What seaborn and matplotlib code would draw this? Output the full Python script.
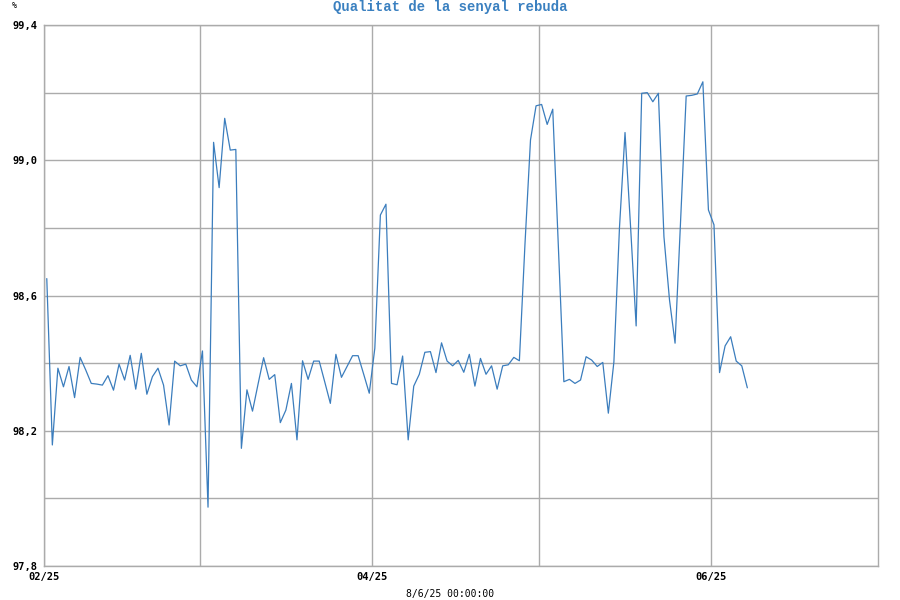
import matplotlib
matplotlib.use("Agg")
import matplotlib.pyplot as plt
import matplotlib.dates as mdates
from matplotlib.ticker import FixedLocator, FuncFormatter
import numpy as np
import pandas as pd
import seaborn as sns

# ---- data (daily readings, % signal quality) ----
start_date = "2025-02-01 12:00"
quality = [
    98.65, 98.158, 98.385, 98.33, 98.39, 98.298, 98.417, 98.38, 98.34, 98.338,
    98.335, 98.363, 98.32, 98.397, 98.35, 98.423, 98.323, 98.429, 98.308, 98.36,
    98.385, 98.335, 98.217, 98.406, 98.392, 98.397, 98.35, 98.33, 98.436, 97.974,
    99.053, 98.919, 99.124, 99.03, 99.032, 98.148, 98.321, 98.258, 98.338, 98.416,
    98.352, 98.366, 98.224, 98.261, 98.34, 98.173, 98.407, 98.352, 98.406, 98.406,
    98.344, 98.281, 98.426, 98.358, 98.39, 98.422, 98.422, 98.367, 98.311, 98.444,
    98.838, 98.87, 98.34, 98.336, 98.421, 98.173, 98.332, 98.367, 98.432, 98.434,
    98.372, 98.46, 98.406, 98.392, 98.408, 98.373, 98.426, 98.332, 98.414, 98.367,
    98.392, 98.323, 98.392, 98.395, 98.417, 98.407, 98.75, 99.06, 99.161, 99.165,
    99.106, 99.151, 98.749, 98.345, 98.352, 98.34, 98.35, 98.419, 98.409, 98.39,
    98.402, 98.252, 98.404, 98.8, 99.082, 98.803, 98.51, 99.198, 99.2, 99.173,
    99.198, 98.774, 98.587, 98.459, 98.823, 99.19, 99.192, 99.196, 99.232, 98.853,
    98.809, 98.372, 98.451, 98.478, 98.406, 98.392, 98.327,
]
y_major = [97.8, 98.2, 98.6, 99.0, 99.4]
y_minor = [98.0, 98.4, 98.8, 99.2]
x_major = ["2025-02-01", "2025-04-01", "2025-06-01"]
x_minor = ["2025-03-01", "2025-05-01"]
x_limits = ["2025-02-01", "2025-07-01"]
title = "Qualitat de la senyal rebuda"
unit_label = "%"
footer = "8/6/25 00:00:00"

dates = pd.date_range(start_date, periods=len(quality), freq="D")
df = pd.DataFrame({"date": dates, "quality": quality})

sns.set_theme(style="white")
plt.rcParams["font.family"] = ["DejaVu Sans Mono", "DejaVu Sans"]

fig = plt.figure(figsize=(9, 6), dpi=100)
ax = fig.add_axes([44 / 900, 34 / 600, 834 / 900, 541 / 600])

line_color = "#3b7dbd"
grid_color = "#ababab"

sns.lineplot(data=df, x="date", y="quality", ax=ax, color=line_color,
             linewidth=0.9, legend=False)

ax.set_xlim(pd.Timestamp(x_limits[0]), pd.Timestamp(x_limits[1]))
ax.set_ylim(y_major[0], y_major[-1])

ax.xaxis.set_major_locator(FixedLocator(mdates.date2num(pd.to_datetime(x_major))))
ax.xaxis.set_minor_locator(FixedLocator(mdates.date2num(pd.to_datetime(x_minor))))
ax.xaxis.set_major_formatter(mdates.DateFormatter("%m/%y"))
ax.yaxis.set_major_locator(FixedLocator(y_major))
ax.yaxis.set_minor_locator(FixedLocator(y_minor))
ax.yaxis.set_major_formatter(FuncFormatter(lambda v, p: f"{v:.1f}".replace(".", ",")))

ax.grid(True, which="both", color=grid_color, linewidth=1.0)
ax.set_axisbelow(True)
for s in ax.spines.values():
    s.set_color(grid_color)
    s.set_linewidth(1.0)

ax.tick_params(axis="both", which="both", length=0)
ax.tick_params(axis="y", pad=5, labelsize=7.5, labelcolor="black")
ax.tick_params(axis="x", pad=4.5, labelsize=7.5, labelcolor="black")
for lab in ax.get_yticklabels():
    lab.set_fontweight("bold")
    lab.set_verticalalignment("center_baseline")
for lab in ax.get_xticklabels():
    lab.set_fontweight("bold")

ax.set_xlabel("")
ax.set_ylabel("")

fig.text(0.5, 1 - 7 / 600, title, ha="center", va="center",
         family=["Liberation Mono", "DejaVu Sans Mono"], fontweight="bold",
         fontsize=10, color="#3a80c0")
fig.text(12 / 900, 1 - 6 / 600, unit_label, ha="left", va="center",
         fontsize=6, color="black")
fig.text(0.5, 1 - 594 / 600, footer, ha="center", va="center",
         fontsize=7, color="black")

fig.savefig("out.png", dpi=100, facecolor="white")
